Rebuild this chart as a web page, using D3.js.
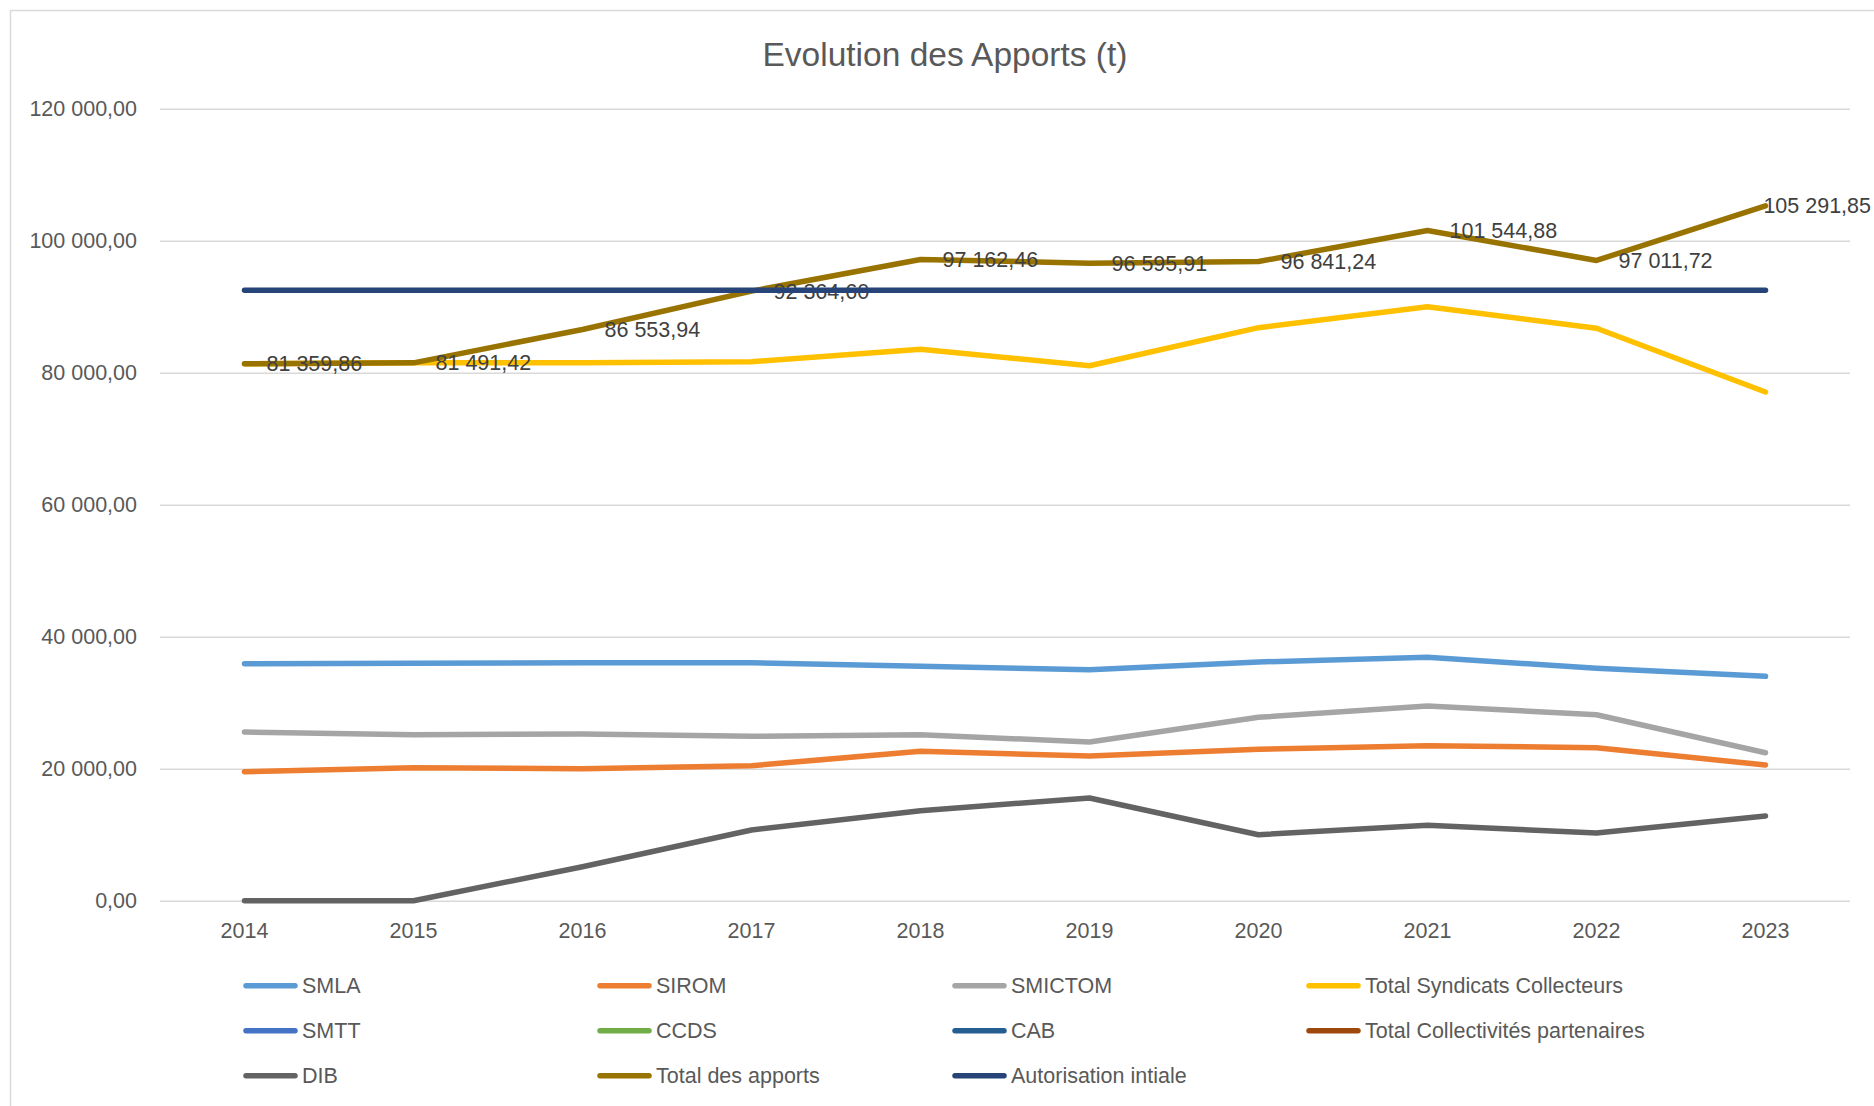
<!DOCTYPE html>
<html>
<head>
<meta charset="utf-8">
<script src="https://cdn.jsdelivr.net/npm/d3@7"></script>
<style>
  body { margin: 0; background: #fff; }
  text { font-family: "Liberation Sans", Arial, sans-serif; }
</style>
</head>
<body>
<div id="chart"></div>
<script>
// data
const years = ["2014", "2015", "2016", "2017", "2018", "2019", "2020", "2021", "2022", "2023"];
const smla = [35910, 35970, 36060, 36060, 35510, 35000, 36170, 36880, 35210, 34000];
const sirom = [19550, 20150, 20000, 20450, 22630, 21920, 22930, 23490, 23180, 20560];
const smictom = [25560, 25150, 25260, 24910, 25150, 24050, 27790, 29500, 28180, 22420];
const totalSyndicats = [81359.86, 81491.42, 81520, 81670, 83550, 81060, 86820, 90000, 86730, 77080];
const smtt = [];
const ccds = [];
const cab = [];
const totalCollectivites = [];
const dib = [0, 0, 5150, 10710, 13640, 15560, 10000, 11420, 10260, 12830];
const totalApports = [81359.86, 81491.42, 86553.94, 92364.60, 97162.46, 96595.91, 96841.24, 101544.88, 97011.72, 105291.85];
const autorisation = [92500, 92500, 92500, 92500, 92500, 92500, 92500, 92500, 92500, 92500];
const yTicks = [0, 20000, 40000, 60000, 80000, 100000, 120000];

const series = [
    { name: "SMLA", values: smla, color: "#5B9BD5" },
    { name: "SIROM", values: sirom, color: "#ED7D31" },
    { name: "SMICTOM", values: smictom, color: "#A5A5A5" },
    { name: "Total Syndicats Collecteurs", values: totalSyndicats, color: "#FFC000" },
    { name: "SMTT", values: smtt, color: "#4472C4" },
    { name: "CCDS", values: ccds, color: "#70AD47" },
    { name: "CAB", values: cab, color: "#255E91" },
    { name: "Total Collectivités partenaires", values: totalCollectivites, color: "#9E480E" },
    { name: "DIB", values: dib, color: "#636363" },
    { name: "Total des apports", values: totalApports, color: "#997300", labels: true },
    { name: "Autorisation intiale", values: autorisation, color: "#264478" }
];

const W = 1874, H = 1106;
const plot = { left: 160, right: 1850, top: 108.7, bottom: 900.7 };

const fr = d3.formatLocale({ decimal: ",", thousands: " ", grouping: [3], currency: ["", "€"] });
const fmt = fr.format(",.2f");

const svg = d3.select("#chart").append("svg")
    .attr("width", W)
    .attr("height", H);

// chart border (cropped on right and bottom)
svg.append("rect")
    .attr("x", 10.5).attr("y", 10.5)
    .attr("width", W + 20).attr("height", H + 20)
    .attr("fill", "#fff")
    .attr("stroke", "#d9d9d9")
    .attr("stroke-width", 1.5);

svg.append("text")
    .attr("x", 945)
    .attr("y", 66)
    .attr("text-anchor", "middle")
    .attr("fill", "#595959")
    .style("font-size", "33.5px")
    .text("Evolution des Apports (t)");

// Scales and axes
const x = d3.scaleBand().domain(years).range([plot.left, plot.right]);
const y = d3.scaleLinear().domain([0, 120000]).range([plot.bottom, plot.top]);
const cx = d => x(d) + x.bandwidth() / 2;

const yAxis = d3.axisLeft(y)
    .tickValues(yTicks)
    .tickSize(-(plot.right - plot.left))
    .tickPadding(23)
    .tickFormat(fmt);

const gy = svg.append("g")
    .attr("transform", "translate(" + plot.left + ",0)")
    .call(yAxis);
gy.select(".domain").remove();
gy.selectAll("line").attr("stroke", "#d9d9d9").attr("stroke-width", 1.5);
gy.selectAll("text")
    .attr("fill", "#595959")
    .style("font-size", "21.5px")
    .style("font-family", "'Liberation Sans', Arial, sans-serif");

const xAxis = d3.axisBottom(x).tickSize(0).tickPadding(22);
const gx = svg.append("g")
    .attr("transform", "translate(0," + plot.bottom + ")")
    .call(xAxis);
gx.select(".domain").remove();
gx.selectAll("text")
    .attr("fill", "#595959")
    .style("font-size", "21.5px")
    .style("font-family", "'Liberation Sans', Arial, sans-serif");

const line = d3.line()
    .defined(d => d.v != null)
    .x(d => cx(d.year))
    .y(d => y(d.v));

series.forEach(s => {
    if (!s.values.length) return;
    const pts = years.map((yr, i) => ({ year: yr, v: s.values[i] }));
    svg.append("path")
        .datum(pts)
        .attr("fill", "none")
        .attr("stroke", s.color)
        .attr("stroke-width", 5.5)
        .attr("stroke-linecap", "round")
        .attr("stroke-linejoin", "round")
        .attr("d", line);

    if (s.labels) {
        svg.append("g").selectAll("text")
            .data(pts)
            .join("text")
            .attr("y", d => y(d.v))
            .attr("dy", "0.35em")
            .attr("fill", "#404040")
            .style("font-size", "21.5px")
            .text(d => fmt(d.v))
            .attr("x", function (d) {
                const w = this.getComputedTextLength();
                return Math.min(cx(d.year) + 22, W - 3 - w);
            });
    }
});

// Legend
const legendCols = [243, 597, 952, 1306];
const legendRows = [985.7, 1030.7, 1075.7];
const legend = svg.append("g");
series.forEach((s, i) => {
    const lx = legendCols[i % 4];
    const ly = legendRows[Math.floor(i / 4)];
    legend.append("line")
        .attr("x1", lx + 3).attr("x2", lx + 52)
        .attr("y1", ly).attr("y2", ly)
        .attr("stroke", s.color)
        .attr("stroke-width", 5.5)
        .attr("stroke-linecap", "round");
    legend.append("text")
        .attr("x", lx + 59)
        .attr("y", ly)
        .attr("dy", "0.35em")
        .attr("fill", "#595959")
        .style("font-size", "21.5px")
        .text(s.name);
});
</script>
</body>
</html>
